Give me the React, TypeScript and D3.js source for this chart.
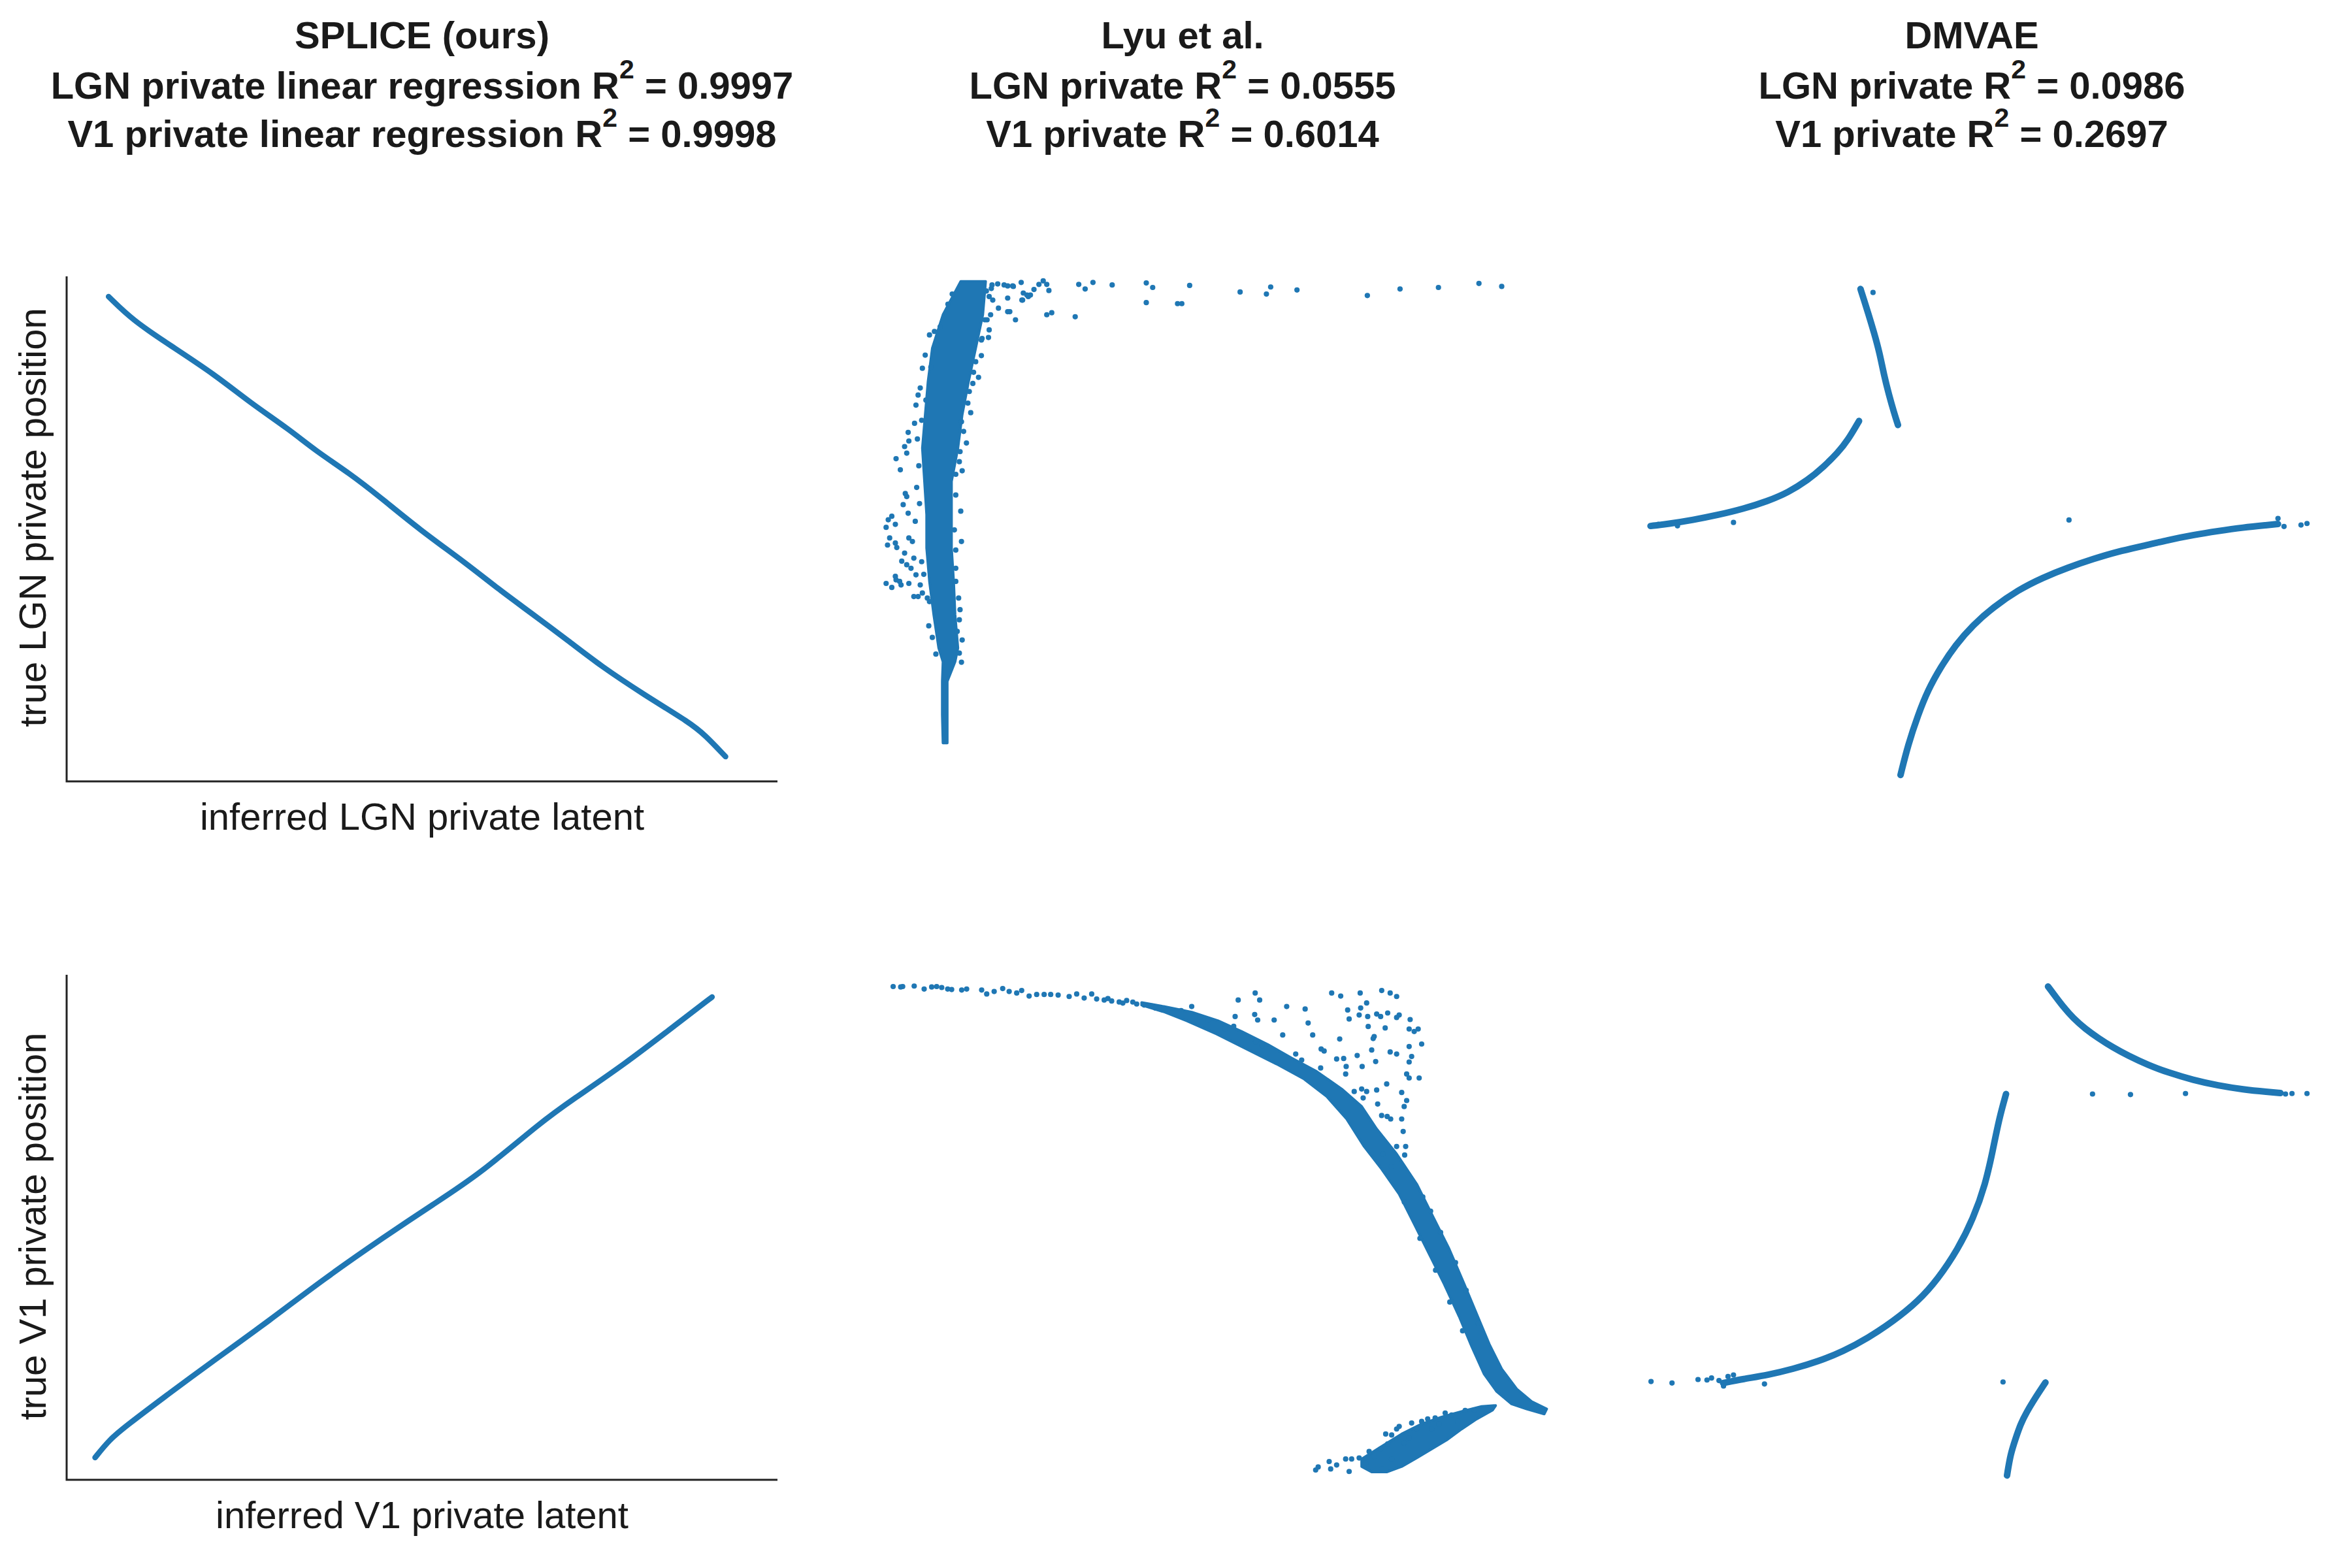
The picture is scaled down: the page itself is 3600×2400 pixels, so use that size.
import React from 'react';
import * as d3 from 'd3';

type P = [number, number];

const BLUE = '#1f77b4';
const INK = '#1a1a1a';
const FONT = '"Liberation Sans", Arial, Helvetica, sans-serif';

// ---------- titles / labels ----------
const methodNames = ['SPLICE (ours)', 'Lyu et al.', 'DMVAE'];
const lgnPrefixes = ['LGN private linear regression R', 'LGN private R', 'LGN private R'];
const v1Prefixes = ['V1 private linear regression R', 'V1 private R', 'V1 private R'];
const lgnR2 = ['0.9997', '0.0555', '0.0986'];
const v1R2 = ['0.9998', '0.6014', '0.2697'];
const xAxisLabels = ['inferred LGN private latent', 'inferred V1 private latent'];
const yAxisLabels = ['true LGN private position', 'true V1 private position'];

// ---------- data (normalized latent units 0..100) ----------
// SPLICE, LGN (dense scatter forming a line)
const spliceLgn: P[] = [
  [5.9, 96.0], [9.3, 91.3], [14.5, 86.4], [20.9, 80.5], [25.8, 75.0], [31.4, 69.6], [34.9, 65.6],
  [39.9, 60.9], [44.1, 56.3], [49.7, 49.8], [56.1, 43.3], [60.9, 37.9], [65.2, 33.5], [70.8, 27.6],
  [75.0, 23.0], [81.3, 17.1], [87.7, 11.6], [89.8, 9.2], [92.7, 4.9],
];
// SPLICE, V1
const spliceV1: P[] = [
  [4.0, 4.4], [6.0, 7.9], [8.2, 10.5], [14.8, 17.5], [19.9, 22.8], [28.7, 31.7], [36.0, 39.6],
  [44.9, 48.3], [51.5, 54.5], [58.0, 60.4], [66.8, 70.9], [71.2, 75.3], [78.5, 82.3], [85.8, 90.2],
  [90.8, 95.6],
];

// Lyu et al., LGN: dense core outline (left edge bottom->top, right edge top->bottom)
const lyuLgnCoreLeft: P[] = [
  [16.3, 7.6], [16.2, 13.2], [16.2, 19.8], [16.3, 23.7], [15.7, 26.4], [15.0, 33.0], [14.4, 39.6],
  [14.0, 46.2], [14.0, 52.8], [13.7, 59.4], [13.4, 66.0], [13.8, 72.6], [14.2, 79.2], [14.8, 85.8],
  [16.3, 92.4], [18.8, 99.0],
];
const lyuLgnCoreRight: P[] = [
  [22.3, 99.0], [21.9, 92.4], [20.9, 85.8], [19.9, 79.2], [19.0, 72.6], [18.4, 66.0], [17.5, 59.4],
  [17.5, 52.8], [17.5, 46.2], [17.8, 39.6], [18.0, 33.0], [18.4, 26.4], [18.0, 23.7], [16.9, 19.8],
  [16.9, 13.2], [16.9, 7.6],
];
const lyuLgnPoints: P[] = [
  [8.3, 50.3], [8.6, 51.8], [9.1, 52.5], [9.6, 50.9], [8.5, 46.8], [8.8, 48.2], [9.6, 47.2], [9.8, 46.3],
  [8.3, 39.2], [9.1, 38.4], [9.6, 40.6], [9.7, 39.9], [10.4, 38.9], [11.5, 39.2], [12.2, 36.6], [12.8, 36.6],
  [9.7, 63.9], [10.3, 61.7], [10.9, 66.3], [11.2, 65.0], [11.4, 69.1], [11.5, 67.4], [11.0, 57.0], [11.2, 56.4],
  [10.7, 54.8], [11.4, 53.1], [12.5, 74.5], [12.3, 70.9], [12.8, 76.5], [13.1, 77.9], [13.4, 81.8], [13.8, 84.4],
  [14.4, 88.4], [15.1, 89.1], [10.5, 43.6], [10.9, 45.2], [11.5, 48.2], [11.2, 42.9], [12.2, 44.2], [11.8, 42.2],
  [10.2, 39.6], [12.5, 40.9], [13.1, 38.9], [13.4, 37.3], [14.1, 36.3], [14.4, 35.6],
  [12.6, 58.2], [12.9, 62.5], [12.4, 51.5], [12.0, 47.5], [13.0, 55.0], [12.7, 67.8], [13.3, 71.5], [13.9, 75.5],
  [14.6, 82.0], [15.4, 86.5], [15.9, 90.0], [17.0, 94.5], [17.6, 96.5], [13.3, 43.5], [13.6, 41.0], [14.3, 30.8],
  [14.8, 28.5], [15.3, 25.2],
  [18.9, 23.6], [18.6, 25.4], [18.3, 29.7], [18.6, 32.0], [18.5, 36.3], [18.1, 39.6], [18.1, 42.2], [18.1, 45.8],
  [17.9, 49.8], [18.1, 56.7], [18.1, 60.8], [18.6, 63.3], [18.7, 65.3], [19.2, 69.3], [18.9, 71.2], [19.8, 74.9],
  [20.0, 77.2], [20.5, 78.8], [20.9, 83.1], [21.7, 84.3], [21.8, 87.7], [22.7, 87.9], [22.5, 91.4], [23.0, 92.4],
  [22.8, 96.0], [23.1, 97.6], [24.1, 93.7], [25.4, 93.0], [25.7, 93.0], [25.4, 95.7], [26.5, 91.4], [27.5, 95.3],
  [28.3, 96.0], [28.6, 96.3], [27.6, 96.7], [25.4, 98.1], [26.2, 98.0], [27.3, 98.8], [29.1, 97.4], [29.8, 98.4],
  [30.4, 99.1], [30.9, 98.4], [31.2, 97.2], [30.9, 92.4], [31.6, 92.8], [34.9, 92.0], [35.4, 98.4], [36.3, 97.5],
  [37.4, 98.8], [40.1, 98.3], [44.9, 98.7], [45.8, 97.8], [44.9, 94.8], [49.3, 94.6], [49.9, 94.6], [51.0, 98.2],
  [58.1, 96.9], [61.8, 96.5], [62.4, 97.9], [66.1, 97.3], [76.0, 96.2], [80.6, 97.5], [86.0, 97.8], [91.7, 98.6],
  [94.9, 98.0], [23.2, 98.3], [24.0, 98.5], [24.9, 98.3], [26.1, 98.1], [27.4, 95.3], [28.1, 96.3], [22.4, 97.1],
  [23.3, 95.3], [22.2, 91.4], [22.8, 89.4], [21.7, 87.4], [19.6, 67.0], [19.0, 61.5], [18.8, 53.5], [18.9, 47.5],
  [18.7, 34.0], [19.0, 28.0], [20.6, 81.0], [21.3, 80.0], [20.2, 73.0],
];

// Lyu et al., V1: main band outline (upper edge left->right, lower edge right->left)
const lyuV1BandUpper: P[] = [
  [44.25, 94.5], [47.8, 93.6], [51.29, 92.6], [55.0, 90.9], [58.32, 88.77], [62.0, 86.2], [65.35, 83.52],
  [68.87, 80.85], [72.39, 77.38], [75.2, 73.92], [77.31, 69.46], [80.12, 64.51], [82.94, 58.57], [85.4, 51.64],
  [87.51, 45.7], [89.62, 38.77], [91.38, 32.83], [93.14, 26.89], [94.9, 21.94], [97.01, 17.98],
  [99.12, 15.5], [101.23, 14.02],
];
const lyuV1BandLower: P[] = [
  [100.88, 13.03], [98.41, 14.02], [96.3, 15.01], [94.19, 17.49], [92.43, 20.95], [90.68, 26.4],
  [88.92, 32.33], [86.81, 38.77], [84.7, 44.71], [82.59, 50.65], [80.47, 56.59], [78.01, 61.54],
  [75.55, 66.0], [73.09, 71.44], [70.28, 75.9], [67.11, 79.36], [63.24, 82.33], [59.02, 85.3],
  [54.8, 88.27], [50.58, 90.9], [47.5, 92.6], [44.25, 94.0],
];
// Lyu et al., V1: lower blob core outline
const lyuV1BlobUpper: P[] = [
  [75.2, 4.12], [78.01, 6.6], [80.83, 9.07], [83.64, 11.05], [86.46, 12.44], [89.27, 13.52], [92.08, 14.52], [94.05, 14.71],
];
const lyuV1BlobLower: P[] = [
  [93.63, 13.82], [91.38, 12.04], [89.27, 10.06], [87.16, 7.88], [85.05, 6.1], [82.94, 4.32], [80.83, 2.63],
  [78.72, 1.55], [76.61, 1.55], [75.2, 2.63],
];
const lyuV1Points: P[] = [
  // sparse left tail of the main band
  [9.29, 97.67], [10.35, 97.58], [10.63, 97.67], [12.25, 97.77], [13.65, 97.18], [14.71, 97.58], [15.41, 97.67],
  [16.12, 97.48], [16.96, 97.18], [17.52, 97.08], [18.93, 96.98], [19.63, 97.18], [21.74, 96.98], [22.45, 96.19],
  [23.5, 96.69], [24.7, 97.28], [25.61, 96.69], [26.67, 96.39], [27.37, 96.88], [28.42, 95.79], [29.48, 96.09],
  [30.53, 96.09], [31.45, 96.09], [32.5, 95.99], [34.05, 95.7], [35.11, 96.19], [36.16, 95.4], [37.22, 96.19],
  [37.92, 95.2], [38.98, 95.0], [40.03, 94.8], [41.09, 94.61], [42.14, 94.9], [43.55, 94.21], [44.6, 94.01],
  [45.66, 93.81], [47.42, 93.42], [51.29, 93.72], [39.5, 95.3], [41.6, 94.4], [43.0, 94.6], [46.2, 93.4],
  [48.6, 92.5], [49.8, 92.9], [52.4, 91.6], [53.6, 91.0], [56.0, 89.3], [57.2, 89.8], [60.3, 86.7], [61.2, 86.0],
  // scattered cloud above the bend
  [57.83, 95.0], [60.22, 96.39], [60.85, 95.0], [57.4, 91.73], [60.15, 92.13], [60.57, 91.04], [62.89, 91.04],
  [64.65, 93.71], [67.25, 93.22], [64.09, 88.07], [67.67, 90.45], [68.31, 88.07], [70.98, 96.39], [72.25, 95.79],
  [74.99, 96.39], [75.9, 94.41], [78.02, 96.88], [79.21, 96.39], [80.12, 95.7], [73.23, 93.02], [73.44, 91.24],
  [74.85, 92.03], [75.06, 93.42], [76.05, 91.73], [77.31, 92.23], [77.87, 91.73], [78.86, 92.43], [80.48, 92.03],
  [76.12, 89.76], [78.51, 89.46], [80.12, 91.54], [82.02, 91.14], [81.88, 89.26], [83.15, 89.26], [83.64, 86.29],
  [82.59, 88.77], [72.11, 87.28], [76.82, 87.38], [76.96, 87.77], [76.61, 85.1], [79.21, 84.71], [80.12, 84.31],
  [81.88, 85.79], [82.23, 83.82], [81.88, 82.73], [81.88, 79.56], [83.29, 79.56], [81.53, 80.35], [78.72, 78.37],
  [77.17, 82.82], [75.27, 81.83], [74.57, 84.01], [73.02, 81.83], [72.67, 83.42], [71.68, 83.32], [69.5, 85.3],
  [69.92, 84.9], [69.43, 81.54], [75.2, 77.38], [75.9, 76.89], [77.31, 77.18], [75.41, 75.6], [77.45, 74.41],
  [80.83, 76.69], [81.53, 75.1], [81.18, 73.91], [78.79, 71.94], [79.28, 71.44], [80.83, 71.44], [78.01, 72.13],
  [81.04, 68.97], [80.12, 66.0], [81.39, 66.0], [81.25, 64.31], [72.95, 80.35], [74.15, 76.89], [65.92, 84.31],
  [66.76, 83.12],
  // ragged edge of the steep part
  [78.2, 64.5], [79.4, 62.0], [83.8, 56.0], [84.9, 53.2], [86.3, 49.0], [88.4, 43.0], [89.9, 37.5], [91.6, 31.0],
  [81.2, 55.0], [83.4, 47.8], [85.6, 41.5], [87.6, 35.2], [89.4, 29.5],
  // scattered part of the lower blob
  [68.73, 1.94], [69.08, 2.53], [70.63, 3.62], [70.84, 2.14], [71.68, 2.93], [72.95, 4.12], [73.44, 1.65],
  [73.79, 4.12], [74.85, 4.32], [75.55, 2.93], [76.25, 5.6], [76.96, 4.61], [77.87, 6.1], [78.58, 9.07],
  [79.42, 8.87], [78.86, 7.09], [80.12, 10.06], [80.48, 10.56], [82.23, 11.25], [82.94, 10.06], [83.64, 11.55],
  [84.49, 12.04], [85.54, 12.24], [86.1, 11.05], [86.95, 13.23], [87.86, 12.83], [88.71, 11.55], [89.76, 13.72],
  [91.03, 13.82], [81.18, 7.29], [81.88, 8.28], [85.05, 10.06], [75.76, 3.33], [78.01, 2.14], [79.42, 4.12],
];

// DMVAE, LGN: three arcs + outliers
const dmvaeLgnSteep: P[] = [
  [34.35, 97.5], [34.84, 95.32], [35.4, 92.85], [36.25, 88.89], [37.02, 84.93], [37.65, 80.47],
  [38.36, 76.51], [39.06, 73.05], [39.62, 70.57],
];
const dmvaeLgnLeftArc: P[] = [
  [4.81, 50.57], [7.27, 50.97], [10.79, 51.76], [14.3, 52.75], [17.82, 53.94], [21.34, 55.52],
  [24.15, 57.2], [26.96, 59.68], [29.07, 62.15], [31.18, 65.12], [32.59, 67.6], [34.14, 71.36],
];
const dmvaeLgnRightArc: P[] = [
  [39.98, 1.27], [41.03, 7.21], [42.44, 13.15], [43.84, 18.1], [45.6, 22.56], [47.71, 27.01],
  [50.18, 30.97], [52.99, 34.44], [56.51, 37.9], [60.02, 40.37], [63.54, 42.35], [67.06, 44.04],
  [70.57, 45.52], [74.09, 46.61], [77.61, 47.8], [81.13, 48.79], [84.64, 49.58], [88.16, 50.28],
  [91.68, 50.77], [93.08, 50.97],
];
const dmvaeLgnPoints: P[] = [
  [36.11, 96.81], [16.48, 51.27], [63.68, 51.76], [93.08, 52.06], [93.93, 50.47], [96.32, 50.77], [97.16, 51.07],
  [5.9, 50.9], [8.6, 50.6],
];

// DMVAE, V1: three arcs + outliers
const dmvaeV1TopArc: P[] = [
  [60.73, 97.67], [61.78, 95.7], [62.84, 93.72], [64.24, 91.44], [66.0, 89.26], [67.76, 87.5],
  [69.87, 85.6], [71.98, 84.0], [74.79, 82.13], [77.61, 80.65], [81.13, 79.16], [84.64, 78.07],
  [88.16, 77.28], [91.68, 76.79], [93.43, 76.59],
];
const dmvaeV1BigArc: P[] = [
  [15.01, 19.17], [17.82, 19.96], [21.34, 20.75], [24.85, 21.94], [28.37, 23.43], [31.89, 25.41],
  [35.4, 28.08], [38.92, 31.35], [42.44, 35.31], [45.25, 39.76], [48.07, 45.7], [50.18, 51.64],
  [51.94, 58.57], [53.0, 65.5], [53.84, 71.44], [54.82, 76.39],
];
const dmvaeV1SmallArc: P[] = [
  [54.96, 0.85], [55.45, 5.11], [56.15, 8.08], [56.86, 11.05], [57.77, 13.52], [58.62, 15.51],
  [59.53, 17.49], [60.37, 19.27],
];
const dmvaeV1Points: P[] = [
  [66.99, 76.39], [72.33, 76.29], [80.07, 76.49], [94.14, 76.39], [95.05, 76.49], [97.16, 76.49],
  [4.88, 19.46], [7.83, 19.17], [11.49, 19.86], [12.75, 19.76], [13.39, 20.16], [14.44, 19.66],
  [15.08, 18.57], [15.71, 20.45], [16.48, 20.75], [20.84, 18.97], [54.4, 19.37],
];

// ---------- layout ----------
const COL_CENTERS = [646, 1810, 3018];
const ROW_TOPS = [423, 1492];
const AX_W = 1088;
const AX_H = 773;
const TITLE_BASELINES = [74, 151, 225];

function scalesFor(col: number, row: number) {
  const x = d3.scaleLinear().domain([0, 100]).range([COL_CENTERS[col] - AX_W / 2, COL_CENTERS[col] + AX_W / 2]);
  const y = d3.scaleLinear().domain([0, 100]).range([ROW_TOPS[row] + AX_H, ROW_TOPS[row]]);
  return { x, y };
}

export default function App() {
  const curve = (pts: P[], col: number, row: number) => {
    const { x, y } = scalesFor(col, row);
    return d3.line<P>().x((d) => x(d[0])).y((d) => y(d[1])).curve(d3.curveBasis)(pts) || '';
  };
  const poly = (pts: P[], col: number, row: number) => {
    const { x, y } = scalesFor(col, row);
    return d3.line<P>().x((d) => x(d[0])).y((d) => y(d[1])).curve(d3.curveLinearClosed)(pts) || '';
  };
  const dots = (pts: P[], col: number, row: number, key: string) => {
    const { x, y } = scalesFor(col, row);
    return pts.map((d, i) => <circle key={key + i} cx={x(d[0])} cy={y(d[1])} r={4.1} fill={BLUE} />);
  };

  const lineStyle = { fill: 'none', stroke: BLUE, strokeWidth: 8.5, strokeLinecap: 'round' as const, strokeLinejoin: 'round' as const };
  const arcStyle = { ...lineStyle, strokeWidth: 10 };
  const areaStyle = { fill: BLUE, stroke: BLUE, strokeWidth: 4, strokeLinejoin: 'round' as const };

  return (
    <svg width={3600} height={2400} viewBox="0 0 3600 2400"
      style={{ position: 'absolute', left: 0, top: 0, display: 'block', background: '#fff' }}
      fontFamily={FONT}>
      <rect x={0} y={0} width={3600} height={2400} fill="#fff" />

      {/* titles */}
      {methodNames.map((name, c) => (
        <g key={'t' + c} fill={INK} fontWeight="bold" fontSize={58} textAnchor="middle">
          <text x={COL_CENTERS[c]} y={TITLE_BASELINES[0]}>{name}</text>
          <text x={COL_CENTERS[c]} y={TITLE_BASELINES[1]}>
            {lgnPrefixes[c]}
            <tspan dy={-31} fontSize={41}>2</tspan>
            <tspan dy={31}>{' = ' + lgnR2[c]}</tspan>
          </text>
          <text x={COL_CENTERS[c]} y={TITLE_BASELINES[2]}>
            {v1Prefixes[c]}
            <tspan dy={-31} fontSize={41}>2</tspan>
            <tspan dy={31}>{' = ' + v1R2[c]}</tspan>
          </text>
        </g>
      ))}

      {/* SPLICE axes (left + bottom spines) and labels */}
      {[0, 1].map((r) => {
        const { x, y } = scalesFor(0, r);
        return (
          <g key={'ax' + r}>
            <path d={`M${x(0)},${y(100)}V${y(0)}H${x(100)}`} fill="none" stroke="#222" strokeWidth={3} />
            <text x={COL_CENTERS[0]} y={y(0) + 74} textAnchor="middle" fontSize={58} fill={INK}>{xAxisLabels[r]}</text>
            <text transform={`translate(70,${r === 0 ? 792 : 1877}) rotate(-90)`} textAnchor="middle" fontSize={58} fill={INK}>
              {yAxisLabels[r]}
            </text>
          </g>
        );
      })}

      {/* SPLICE curves */}
      <path d={curve(spliceLgn, 0, 0)} style={lineStyle} />
      <path d={curve(spliceV1, 0, 1)} style={lineStyle} />

      {/* Lyu et al. */}
      <path d={poly([...lyuLgnCoreLeft, ...lyuLgnCoreRight], 1, 0)} style={areaStyle} />
      {dots(lyuLgnPoints, 1, 0, 'll')}
      <path d={poly([...lyuV1BandUpper, ...lyuV1BandLower], 1, 1)} style={areaStyle} />
      <path d={poly([...lyuV1BlobUpper, ...lyuV1BlobLower], 1, 1)} style={areaStyle} />
      {dots(lyuV1Points, 1, 1, 'lv')}

      {/* DMVAE */}
      <path d={curve(dmvaeLgnSteep, 2, 0)} style={arcStyle} />
      <path d={curve(dmvaeLgnLeftArc, 2, 0)} style={arcStyle} />
      <path d={curve(dmvaeLgnRightArc, 2, 0)} style={arcStyle} />
      {dots(dmvaeLgnPoints, 2, 0, 'dl')}
      <path d={curve(dmvaeV1TopArc, 2, 1)} style={arcStyle} />
      <path d={curve(dmvaeV1BigArc, 2, 1)} style={arcStyle} />
      <path d={curve(dmvaeV1SmallArc, 2, 1)} style={arcStyle} />
      {dots(dmvaeV1Points, 2, 1, 'dv')}
    </svg>
  );
}
